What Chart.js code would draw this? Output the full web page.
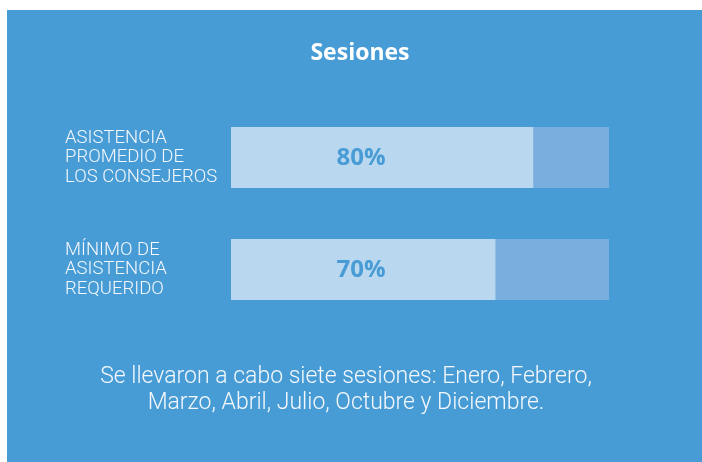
<!DOCTYPE html>
<html lang="es">
<head>
<meta charset="utf-8">
<title>Sesiones</title>
<script src="https://cdn.jsdelivr.net/npm/chart.js@4.4.1/dist/chart.umd.min.js"></script>
<style>
  html, body { margin: 0; padding: 0; background: #fff; }
  body { width: 702px; height: 462px; position: relative; overflow: hidden; }
  .panel {
    position: absolute; left: 7px; top: 10px; width: 695px; height: 452px;
    background: #489cd6;
  }
  .panel canvas { position: absolute; left: 0; top: 0; }
  .title {
    position: absolute; left: 0; top: 36px; width: 720px;
    text-align: center; color: #fff;
    font: 700 23px/30px "Open Sans", sans-serif;
  }
  .note {
    position: absolute; left: 0; top: 363px; width: 692px;
    text-align: center; color: #f4f8fc;
    font: 300 23px/26px Roboto, sans-serif;
  }
</style>
</head>
<body>
<div class="panel">
  <canvas id="sessionsChart" width="695" height="452"></canvas>
</div>
<div class="title">Sesiones</div>
<div class="note">Se llevaron a cabo siete sesiones: Enero, Febrero,<br>Marzo, Abril, Julio, Octubre y Diciembre.</div>

<script>
// ---- data ----
const categories = [
  ['ASISTENCIA', 'PROMEDIO DE', 'LOS CONSEJEROS'],
  ['MÍNIMO DE', 'ASISTENCIA', 'REQUERIDO'],
];
const attendance = [80, 70];          // percent
const remainder = attendance.map(v => 100 - v);

const COLORS = {
  filled: '#b9d8f0',
  track: '#7aaede',
  valueText: '#489bd5',
  label: '#f4f8fc',
};

// draws "80%" etc. inside the filled part of each bar
const valueLabels = {
  id: 'valueLabels',
  afterDatasetsDraw(chart) {
    const { ctx, scales: { x } } = chart;
    const meta = chart.getDatasetMeta(0);
    const labelX = x.getPixelForValue(34.4);
    ctx.save();
    ctx.font = '700 24px "Open Sans", sans-serif';
    ctx.fillStyle = COLORS.valueText;
    ctx.textAlign = 'center';
    ctx.textBaseline = 'middle';
    meta.data.forEach((bar, i) => {
      ctx.fillText(attendance[i] + '%', labelX, bar.y + 1);
    });
    ctx.restore();
  }
};

new Chart(document.getElementById('sessionsChart'), {
  type: 'bar',
  data: {
    labels: categories,
    datasets: [
      { data: attendance, backgroundColor: COLORS.filled },
      { data: remainder, backgroundColor: COLORS.track },
    ]
  },
  options: {
    indexAxis: 'y',
    responsive: false,
    animation: false,
    events: [],
    datasets: { bar: { categoryPercentage: 1, barPercentage: 0.545, borderWidth: 0 } },
    layout: { padding: { left: 58, right: 93, top: 91.5, bottom: 136.5 } },
    plugins: { legend: { display: false }, tooltip: { enabled: false } },
    scales: {
      x: { stacked: true, min: 0, max: 100, display: false },
      y: {
        stacked: true,
        grid: { display: false },
        border: { display: false },
        afterFit: scale => { scale.width = 166; },
        ticks: {
          crossAlign: 'far',
          color: COLORS.label,
          font: { family: 'Roboto, sans-serif', size: 18.5, weight: 300, lineHeight: 1.06 },
        }
      }
    }
  },
  plugins: [valueLabels]
});
</script>
</body>
</html>
